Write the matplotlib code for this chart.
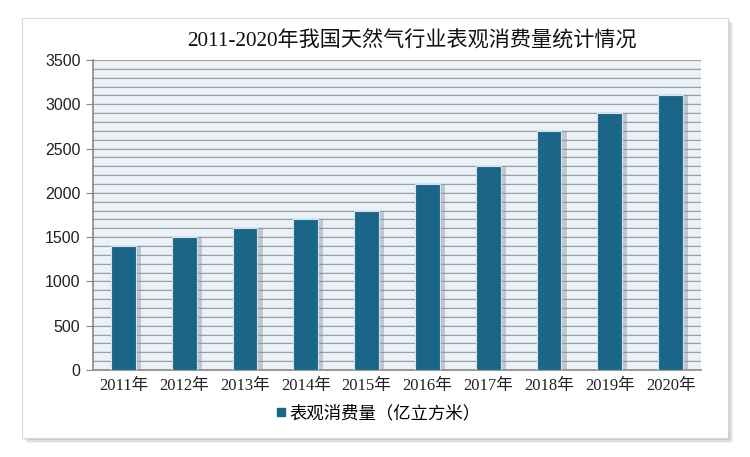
import matplotlib.pyplot as plt
from matplotlib.patches import Rectangle
from matplotlib.lines import Line2D

years = ["2011年", "2012年", "2013年", "2014年", "2015年",
         "2016年", "2017年", "2018年", "2019年", "2020年"]
consumption = [1400, 1500, 1600, 1700, 1800, 2100, 2300, 2700, 2900, 3100]
series_name = "表观消费量（亿立方米）"
title = "2011-2020年我国天然气行业表观消费量统计情况"

serif_cjk = ["Liberation Serif", "Noto Sans CJK SC"]
bar_color = "#1b6688"

fig = plt.figure(figsize=(7.5, 4.57), dpi=100)
fig.patch.set_facecolor("white")

# white card with soft shadow
for i, a in enumerate([0.05, 0.07, 0.09, 0.12]):
    off = (4 - i) * 1.2
    fig.patches.append(Rectangle((22 / 750 + off / 750, 1 - 438 / 457 - off / 457),
                                 706 / 750, 420 / 457, transform=fig.transFigure,
                                 facecolor="black", alpha=a, edgecolor="none", zorder=0))
fig.patches.append(Rectangle((22 / 750, 1 - 438 / 457), 706 / 750, 420 / 457,
                             transform=fig.transFigure, facecolor="white",
                             edgecolor="#d8d8d8", linewidth=0.8, zorder=1))

ax = fig.add_axes([93 / 750, 1 - 370 / 457, 608 / 750, 310 / 457])
ax.set_zorder(2)
ax.set_facecolor("#e9f1f9")

x = list(range(len(years)))
# bar shadow
ax.bar([v + 0.06 for v in x], consumption, width=0.46, color="#7f8c96",
       alpha=0.4, zorder=2, edgecolor="none")
ax.bar(x, consumption, width=0.41, color=bar_color, edgecolor="#d5e2ec",
       linewidth=0.8, zorder=3)

ax.set_xlim(-0.5, len(years) - 0.5)
ax.set_ylim(0, 3500)
ax.set_yticks(range(0, 3501, 500))
ax.set_yticks(range(0, 3501, 100), minor=True)
# grid lines with a light line beneath for a raised look
for yv in range(100, 3501, 100):
    ax.axhline(yv - 12, color="white", linewidth=1.0, zorder=1)
    ax.axhline(yv, color="#9e9e9e", linewidth=1.0, zorder=1)

ax.set_xticks(x)
ax.set_xticklabels(years, family=serif_cjk, fontsize=12, color="#222222")
ax.tick_params(axis="x", length=0, pad=6)
ax.tick_params(axis="y", which="major", length=5, color="#888888",
               labelsize=11.5, labelcolor="#222222", pad=4)
ax.tick_params(axis="y", which="minor", length=0)
for lab in ax.get_yticklabels():
    lab.set_family(["Liberation Sans", "DejaVu Sans"])

for s in ["top", "right"]:
    ax.spines[s].set_visible(False)
ax.spines["left"].set_color("#888888")
ax.spines["bottom"].set_color("#888888")
ax.spines["left"].set_linewidth(1.2)
ax.spines["bottom"].set_linewidth(1.2)

fig.text(0.549, 1 - 40 / 457, title, ha="center", va="center",
         family=serif_cjk, fontsize=15.2, color="#111111")

handle = Line2D([], [], marker="s", linestyle="none", markersize=6,
                markerfacecolor=bar_color, markeredgecolor=bar_color)
fig.legend([handle], [series_name], loc="center", bbox_to_anchor=(0.503, 1 - 414 / 457),
           frameon=False, prop={"family": serif_cjk, "size": 12.5},
           handletextpad=0.1, handlelength=0.8)

fig.savefig("out.png", dpi=100)
